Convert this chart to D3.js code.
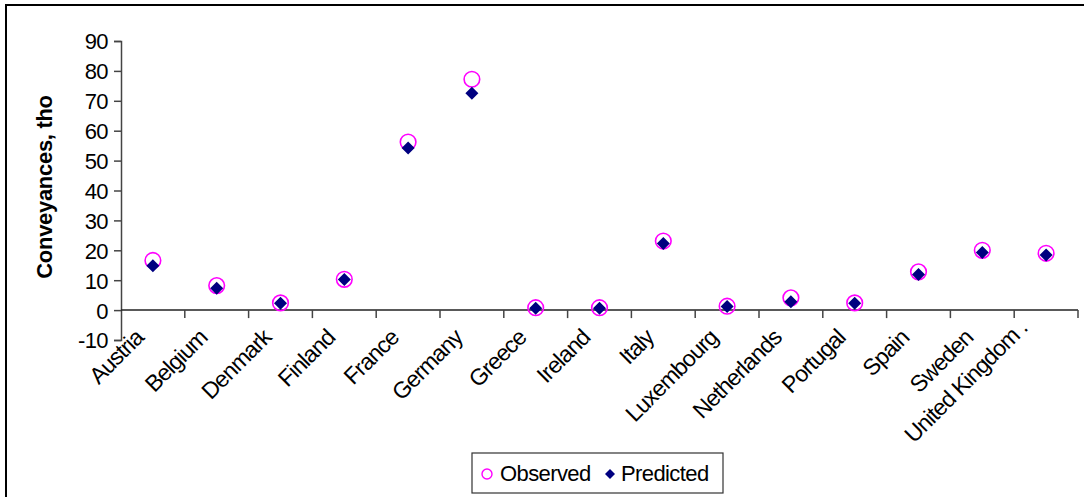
<!DOCTYPE html>
<html>
<head>
<meta charset="utf-8">
<script src="https://cdnjs.cloudflare.com/ajax/libs/d3/7.8.5/d3.min.js"></script>
<style>
  html, body { margin: 0; padding: 0; background: #fff; }
  svg { display: block; }
  text { font-family: "Liberation Sans", Arial, sans-serif; fill: #000; letter-spacing: -0.6px; }
</style>
</head>
<body>
<svg id="chart" width="1084" height="497"></svg>
<script>
// Conveyances by country (thousands): observed vs. model prediction
// (the last category label wraps onto a second, blank line)
const countries = ["Austria", "Belgium", "Denmark", "Finland", "France", "Germany", "Greece",
  "Ireland", "Italy", "Luxembourg", "Netherlands", "Portugal", "Spain", "Sweden", "United Kingdom .\n"];
const observed  = [16.6, 8.2, 2.4, 10.3, 56.2, 77.2, 0.8, 0.8, 23.1, 1.3, 4.1, 2.4, 12.8, 20.0, 19.0];
const predicted = [14.8, 7.3, 2.3, 10.2, 54.2, 72.5, 0.6, 0.6, 22.3, 1.2, 2.8, 2.3, 11.9, 19.3, 18.4];
const yTicks = [-10, 0, 10, 20, 30, 40, 50, 60, 70, 80, 90];
const yTitle = "Conveyances, tho";
const seriesNames = ["Observed", "Predicted"];

const svg = d3.select("#chart");

// outer chart frame
svg.append("rect")
  .attr("x", 6).attr("y", 5).attr("width", 1090).attr("height", 500)
  .attr("fill", "#fff").attr("stroke", "#000").attr("stroke-width", 2);

const plot = { left: 121, right: 1078, top: 41, bottom: 340 };

const x = d3.scaleBand().domain(countries).range([plot.left, plot.right]).padding(0);
const y = d3.scaleLinear().domain([-10, 90]).range([plot.bottom, plot.top]);

// y axis
const yAxis = d3.axisLeft(y).tickValues(yTicks).tickSize(7).tickPadding(6).tickFormat(d => String(d));
const gy = svg.append("g").attr("transform", `translate(${plot.left},0)`).call(yAxis);
gy.select(".domain").attr("stroke", "#444").attr("stroke-width", 1.5);
gy.selectAll(".tick line").attr("stroke", "#444").attr("stroke-width", 1.5);
gy.selectAll(".tick text")
  .style("font-family", '"Liberation Sans", Arial, sans-serif')
  .style("font-size", "22px").style("letter-spacing", "-0.6px")
  .attr("fill", "#000").attr("dy", "0.36em");

// x axis along zero, ticks between categories
const gx = svg.append("g").attr("transform", `translate(0,${y(0)})`);
gx.append("line")
  .attr("x1", plot.left).attr("x2", plot.right)
  .attr("stroke", "#222").attr("stroke-width", 1.5);
const boundaries = countries.map(c => x(c)).concat([x(countries[countries.length - 1]) + x.bandwidth()]);
gx.selectAll("line.tick").data(boundaries.slice(1)).join("line")
  .attr("class", "tick")
  .attr("x1", d => d).attr("x2", d => d).attr("y1", 0).attr("y2", 8)
  .attr("stroke", "#444").attr("stroke-width", 1.5);

// rotated category labels; multi-line labels are centred on the anchor
const lineH = 27;
const labels = svg.append("g").selectAll("text").data(countries).join("text")
  .attr("transform", d => `translate(${x(d) + x.bandwidth() / 2 - 8},${plot.bottom - 1}) rotate(-45)`)
  .attr("text-anchor", "end")
  .style("font-size", "23px").style("letter-spacing", "-0.9px");
labels.each(function (d) {
  const lines = d.split("\n");
  d3.select(this).selectAll("tspan").data(lines).join("tspan")
    .attr("x", 0)
    .attr("y", (l, i) => (i - (lines.length - 1) / 2) * lineH)
    .text(l => l);
});

// y title
svg.append("text")
  .attr("transform", `translate(44,187) rotate(-90)`)
  .attr("text-anchor", "middle").attr("dy", "0.35em")
  .style("font-size", "22px").style("font-weight", "bold").style("letter-spacing", "-0.3px")
  .text(yTitle);

// observed: open magenta circles
svg.append("g").selectAll("circle").data(observed).join("circle")
  .attr("cx", (d, i) => x(countries[i]) + x.bandwidth() / 2)
  .attr("cy", d => y(d))
  .attr("r", 7.8)
  .attr("fill", "none").attr("stroke", "#ff00ff").attr("stroke-width", 1.6);

// predicted: navy diamonds
svg.append("g").selectAll("path").data(predicted).join("path")
  .attr("d", "M0,-6.5L6.5,0L0,6.5L-6.5,0Z")
  .attr("transform", (d, i) => `translate(${x(countries[i]) + x.bandwidth() / 2},${y(d)})`)
  .attr("fill", "#000080");

// legend
const lg = svg.append("g");
lg.append("rect").attr("x", 472).attr("y", 453).attr("width", 251).attr("height", 40)
  .attr("fill", "#fff").attr("stroke", "#333").attr("stroke-width", 1.2);
lg.append("circle").attr("cx", 487).attr("cy", 474).attr("r", 5)
  .attr("fill", "none").attr("stroke", "#ff00ff").attr("stroke-width", 1.4);
lg.append("text").attr("x", 500).attr("y", 473).attr("dy", "0.36em")
  .style("font-size", "22px").text(seriesNames[0]);
lg.append("path").attr("d", "M0,-5L5,0L0,5L-5,0Z")
  .attr("transform", "translate(610,474)").attr("fill", "#000080");
lg.append("text").attr("x", 621).attr("y", 473).attr("dy", "0.36em")
  .style("font-size", "22px").text(seriesNames[1]);
</script>
</body>
</html>
